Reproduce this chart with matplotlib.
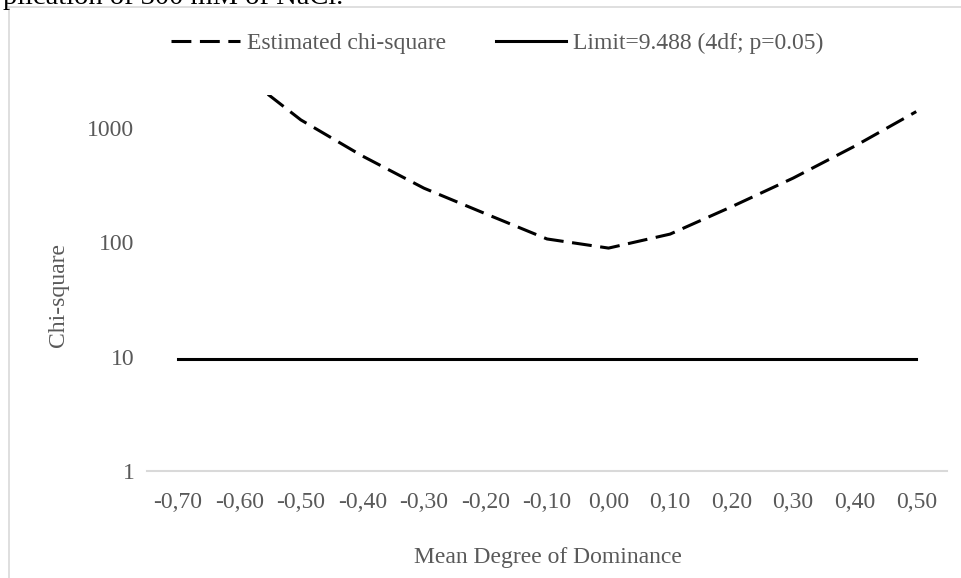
import matplotlib
matplotlib.use("Agg")
import matplotlib.pyplot as plt
from matplotlib.lines import Line2D
from matplotlib.patches import Rectangle
import numpy as np

categories = ["-0,70", "-0,60", "-0,50", "-0,40", "-0,30", "-0,20", "-0,10",
              "0,00", "0,10", "0,20", "0,30", "0,40", "0,50"]
estimated_chi_square = [8000, 3100, 1180, 570, 298, 178, 107, 89, 118, 205, 365, 695, 1395]
limit_value = 9.488
limit = [limit_value] * len(categories)
y_ticks = [1, 10, 100, 1000]
y_tick_labels = ["1", "10", "100", "1000"]

W, H = 961, 578
plt.rcParams['font.family'] = ['Liberation Serif', 'DejaVu Serif']
fig = plt.figure(figsize=(W / 100, H / 100), dpi=100)
gray = "#595959"
dash = (0, (6.5, 2.8))

# chart frame
fig.patches.append(Rectangle((9 / W, -0.1), 1.2, 1 - 7 / H + 0.1, transform=fig.transFigure,
                             fill=False, edgecolor="#d9d9d9", linewidth=1.2))

# cut-off caption above the chart
fig.text(3 / W, 1 - 4 / H, "plication of 300 mM of NaCl.", fontsize=20.5,
         color="black", ha="left", va="baseline")

ax = fig.add_axes([147 / W, 1 - 470.7 / H, 800 / W, (470.7 - 95) / H])
x = np.arange(len(categories))
ax.plot(x, estimated_chi_square, color="black", linestyle=dash, linewidth=2.2,
        dash_capstyle="butt")
ax.plot(x, limit, color="black", linestyle="-", linewidth=2.2)

ax.set_yscale("log")
ax.set_ylim(1, 1950)
ax.set_xlim(-0.5, len(categories) - 0.5)
ax.set_yticks(y_ticks)
ax.set_yticklabels(y_tick_labels)
ax.yaxis.set_minor_locator(matplotlib.ticker.NullLocator())
ax.set_xticks(x)
ax.set_xticklabels(categories)
ax.tick_params(axis="both", length=0, labelsize=17, colors=gray)
ax.tick_params(axis="y", pad=9)
ax.tick_params(axis="x", pad=15)
for s in ["top", "right", "left"]:
    ax.spines[s].set_visible(False)
ax.spines["bottom"].set_color("#d9d9d9")
ax.spines["bottom"].set_linewidth(1.5)
ax.set_facecolor("none")

fig.text(548 / W, 1 - 557 / H, "Mean Degree of Dominance", fontsize=17, color=gray,
         ha="center", va="center")
fig.text(58 / W, 1 - 295 / H, "Chi-square", fontsize=17, color=gray, rotation=90,
         ha="center", va="center")

# legend
handles = [Line2D([0], [0], color="black", linestyle=dash, linewidth=2.2),
           Line2D([0], [0], color="black", linestyle="-", linewidth=2.2)]
leg = fig.legend(handles, ["Estimated chi-square", "Limit=9.488 (4df; p=0.05)"],
                 loc="center", bbox_to_anchor=(497 / W, 1 - 43 / H), ncol=2, frameon=False,
                 fontsize=17, labelcolor=gray, handlelength=2.95, handletextpad=0.3,
                 columnspacing=2.1)

fig.savefig("out.png", dpi=100)
